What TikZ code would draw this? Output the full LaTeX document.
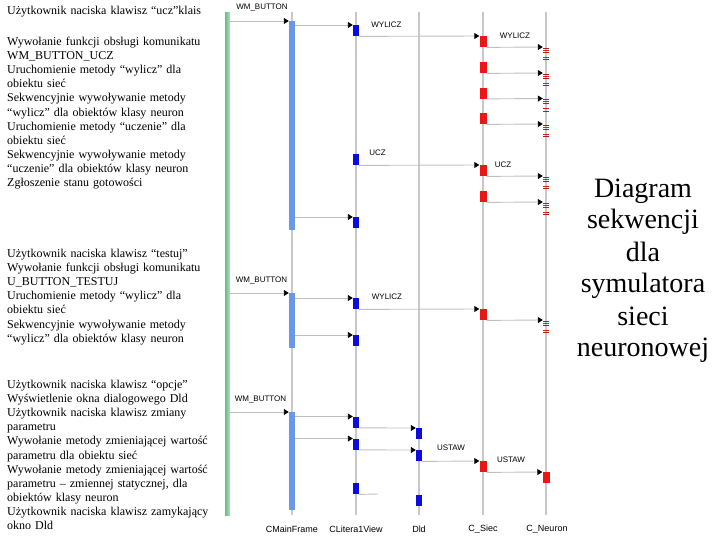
\documentclass[tikz,border=0pt]{standalone}
\usepackage{fontspec}
\setmainfont{Liberation Serif}
\newfontfamily\arialf{Liberation Sans}
\usetikzlibrary{arrows.meta}
\definecolor{lifegray}{RGB}{200,200,200}
\definecolor{msggray}{RGB}{192,192,192}
\definecolor{mainblue}{RGB}{105,152,235}
\definecolor{actblue}{RGB}{12,12,222}
\definecolor{actred}{RGB}{236,22,22}
\definecolor{stripered}{RGB}{165,30,40}
\definecolor{greenA}{RGB}{105,188,135}
\definecolor{greenB}{RGB}{178,224,192}
\begin{document}
\begin{tikzpicture}[x=1pt,y=-1pt,
  lifeline/.style={draw=lifegray, line width=1.3pt},
  msg/.style={draw=msggray, line width=0.9pt, -{Triangle[length=5pt,width=6pt,color=black]}},
  plain/.style={draw=msggray, line width=0.9pt},
  act/.style={rectangle, inner sep=0pt, minimum width=6pt, minimum height=11pt, anchor=north, draw=none},
  bluact/.style={act, fill=actblue},
  redact/.style={act, fill=actred, minimum width=7pt},
  mainbar/.style={rectangle, inner sep=0pt, minimum width=6pt, anchor=north, fill=mainblue},
  neu/.style={rectangle, inner sep=0pt, minimum width=6pt, minimum height=14pt, anchor=north,
    path picture={\foreach \d/\c in {1/stripered,3/actred,5/stripered,10/actred,12.7/stripered}{
      \draw[\c, line width=1.1pt] ([yshift=-\d pt]path picture bounding box.north west) -- ([yshift=-\d pt]path picture bounding box.north east);}}},
  msglabel/.style={font=\arialf\fontsize{8}{9}\selectfont, inner sep=0pt},
  lifelabel/.style={font=\arialf\fontsize{9}{10}\selectfont, inner sep=0pt},
  desc/.style={font=\fontsize{12}{14.15}\selectfont, align=left, text width=225pt, inner sep=0pt, anchor=base west},
  title/.style={font=\fontsize{28}{32}\selectfont, align=center, text width=150pt, inner sep=0pt, anchor=base}
]
\useasboundingbox (0,0) rectangle (720,540);

% left descriptions
\node[desc] (dA) at (7,15) {Użytkownik naciska klawisz “ucz”klais};
\node[desc] (dB) at (7,45.3) {Wywołanie funkcji obsługi komunikatu\\
WM\_BUTTON\_UCZ\\
Uruchomienie metody “wylicz” dla\\
obiektu sieć\\
Sekwencyjnie wywoływanie metody\\
“wylicz” dla obiektów klasy neuron\\
Uruchomienie metody “uczenie” dla\\
obiektu sieć\\
Sekwencyjnie wywoływanie metody\\
“uczenie” dla obiektów klasy neuron\\
Zgłoszenie stanu gotowości};
\node[desc] (dC) at (7,257.3) {Użytkownik naciska klawisz “testuj”\\
Wywołanie funkcji obsługi komunikatu\\
U\_BUTTON\_TESTUJ\\
Uruchomienie metody “wylicz” dla\\
obiektu sieć\\
Sekwencyjnie wywoływanie metody\\
“wylicz” dla obiektów klasy neuron};
\node[desc] (dD) at (7,388.3) {Użytkownik naciska klawisz “opcje”\\
Wyświetlenie okna dialogowego Dld\\
Użytkownik naciska klawisz zmiany\\
parametru\\
Wywołanie metody zmieniającej wartość\\
parametru dla obiektu sieć\\
Wywołanie metody zmieniającej wartość\\
parametru – zmiennej statycznej, dla\\
obiektów klasy neuron\\
Użytkownik naciska klawisz zamykający\\
okno Dld};

% title
\node[title] (ttl) at (643,197) {Diagram\\ sekwencji\\ dla\\ symulatora\\ sieci\\ neuronowej};

% user bar
\node[rectangle, inner sep=0pt, minimum width=5pt, minimum height=503pt, anchor=north,
  left color=greenA, right color=greenB] (user) at (227.5,12) {};

% lifelines
\foreach \n/\x in {lm/292, lv/356, ld/419, ls/483, ln/546}{
  \coordinate (\n t) at (\x,12);
  \coordinate (\n b) at (\x,515);
  \draw[lifeline] (\n t) -- (\n b);
}
\node[lifelabel] (lbm) at (292,529.5) {CMainFrame};
\node[lifelabel] (lbv) at (356,529.5) {CLitera1View};
\node[lifelabel] (lbd) at (419,529.5) {Dld};
\node[lifelabel] (lbs) at (483,529.5) {C\_Siec};
\node[lifelabel] (lbn) at (547,529.5) {C\_Neuron};

% ---------- section 1 ----------
\node[mainbar, minimum height=209pt] (m1) at (292,21) {};
\node[bluact] (v1) at (356,25) {};
\node[redact] (s1) at (483,36) {};
\node[neu] (n1) at (546,47) {};
\node[redact] (s2) at (483,62) {};
\node[neu] (n2) at (546,73) {};
\node[redact] (s3) at (483,87.5) {};
\node[neu] (n3) at (546,98.5) {};
\node[redact] (s4) at (483,113) {};
\node[neu] (n4) at (546,124) {};
\node[bluact] (v2) at (356,154) {};
\node[redact] (s5) at (483,165) {};
\node[neu] (n5) at (546,176) {};
\node[redact] (s6) at (483,191) {};
\node[neu] (n6) at (546,202) {};
\node[bluact] (v3) at (356,217) {};

\node[msglabel] (l1) at (262,8) {WM\_BUTTON};
\node[msglabel] (l2) at (386.5,24.5) {WYLICZ};
\node[msglabel] (l3) at (515,35.5) {WYLICZ};
\node[msglabel] (l4) at (377.5,152.5) {UCZ};
\node[msglabel] (l5) at (503,164.5) {UCZ};

\draw[msg] (user.east |- m1.north) -- (m1.north west);
\draw[msg] (m1.east |- v1.north) -- (v1.north west);
\draw[msg] (v1.south east) -- (s1.north west);
\draw[msg] (s1.south east) -- (n1.north west);
\draw[msg] (s2.south east) -- (n2.north west);
\draw[msg] (s3.south east) -- (n3.north west);
\draw[msg] (s4.south east) -- (n4.north west);
\draw[msg] (v2.south east) -- (s5.north west);
\draw[msg] (s5.south east) -- (n5.north west);
\draw[msg] (s6.south east) -- (n6.north west);
\draw[msg] (m1.east |- v3.north) -- (v3.north west);

% ---------- section 2 ----------
\node[mainbar, minimum height=55pt] (m2) at (292,293) {};
\node[bluact] (v4) at (356,298) {};
\node[redact] (s7) at (483,309) {};
\node[neu] (n7) at (546,320) {};
\node[bluact] (v5) at (356,335) {};

\node[msglabel] (l6) at (261.5,281) {WM\_BUTTON};
\node[msglabel] (l7) at (387,297) {WYLICZ};

\draw[msg] (user.east |- m2.north) -- (m2.north west);
\draw[msg] (m2.east |- v4.north) -- (v4.north west);
\draw[msg] (v4.south east) -- (s7.north west);
\draw[msg] (s7.south east) -- (n7.north west);
\draw[msg] (m2.east |- v5.north) -- (v5.north west);

% ---------- section 3 ----------
\node[mainbar, minimum height=98pt] (m3) at (292,412) {};
\node[bluact] (v6) at (356,416.5) {};
\node[bluact] (d1) at (419,428) {};
\node[bluact] (v7) at (356,438.5) {};
\node[bluact] (d2) at (419,450) {};
\node[redact] (s8) at (483,461) {};
\node[redact] (r9) at (546,472) {};
\node[bluact] (v8) at (356,483) {};
\node[bluact] (d3) at (419,494.5) {};
\coordinate (gap) at (378,494);

\node[msglabel] (l8) at (260.5,400) {WM\_BUTTON};
\node[msglabel] (l9) at (451,448) {USTAW};
\node[msglabel] (l10) at (511,460) {USTAW};

\draw[msg] (user.east |- m3.north) -- (m3.north west);
\draw[msg] (m3.east |- v6.north) -- (v6.north west);
\draw[msg] (v6.south east) -- (d1.north west);
\draw[msg] (m3.east |- v7.north) -- (v7.north west);
\draw[msg] (v7.south east) -- (d2.north west);
\draw[msg] (d2.south east) -- (s8.north west);
\draw[msg] (s8.south east) -- (r9.north west);
\draw[-{Triangle[length=5pt,width=6pt,color=black]}, draw=none] ([xshift=-6pt]v8.north west) -- (v8.north west);
\draw[plain] (v8.south east) -- (gap);
\draw[-{Triangle[length=5pt,width=6pt,color=black]}, draw=none] ([xshift=-6pt]d3.north west) -- (d3.north west);
\end{tikzpicture}
\end{document}
